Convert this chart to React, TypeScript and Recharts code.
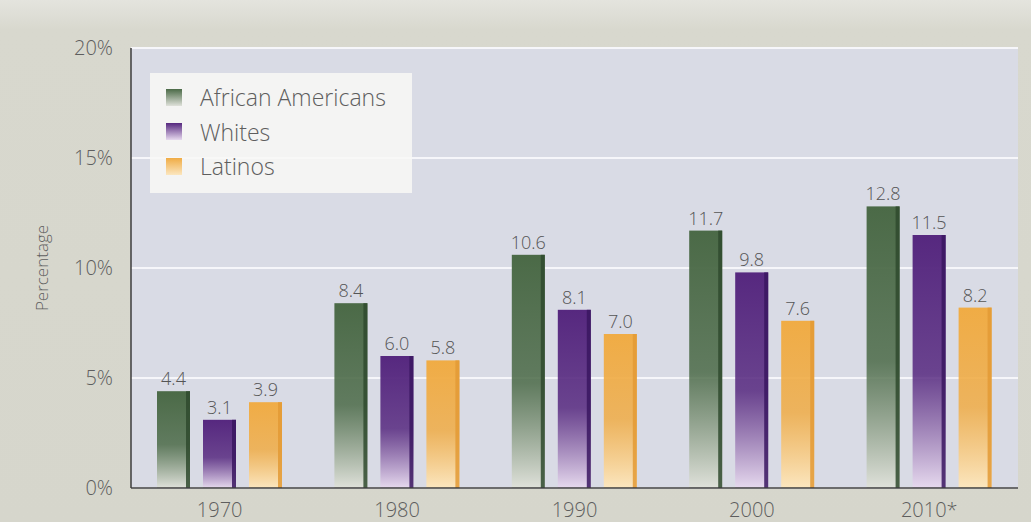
import React from 'react';
import { BarChart, Bar, XAxis, YAxis, CartesianGrid, LabelList } from 'recharts';

const years = ['1970', '1980', '1990', '2000', '2010*'];
const africanAmericans = [4.4, 8.4, 10.6, 11.7, 12.8];
const whites = [3.1, 6.0, 8.1, 9.8, 11.5];
const latinos = [3.9, 5.8, 7.0, 7.6, 8.2];
const yTicks = [0, 5, 10, 15, 20];

const seriesInfo = [
  { key: 'aa', name: 'African Americans', top: '#4b6a47', bottom: '#dfe1da', edge: '#2f4a2e' },
  { key: 'wh', name: 'Whites', top: '#56287f', bottom: '#e6d9ee', edge: '#3a1660' },
  { key: 'la', name: 'Latinos', top: '#f0ac45', bottom: '#fbe6bf', edge: '#e39a35' },
];

const data = years.map((y, i) => ({
  year: y,
  aa: africanAmericans[i],
  wh: whites[i],
  la: latinos[i],
}));

const FONT = '"Open Sans", "Noto Sans", sans-serif';
const TEXT = '#5e5e5e';

const makeShape = (s: typeof seriesInfo[number]) => (props: any) => {
  const { x, y, width, height } = props;
  if (!height || height <= 0) return null;
  const edgeW = 4;
  return (
    <g>
      <rect x={x} y={y} width={width} height={height} fill={`url(#grad-${s.key})`} />
      <rect x={x + width - edgeW} y={y} width={edgeW} height={height} fill={s.edge} opacity={0.85} />
    </g>
  );
};

const LegendBox = () => (
  <div
    style={{
      position: 'absolute',
      left: 150,
      top: 73,
      background: 'rgba(248,248,246,0.85)',
      width: 262,
      height: 120,
      boxSizing: 'border-box',
      padding: '7px 0 0 16px',
      fontFamily: FONT,
    }}
  >
    {seriesInfo.map((s) => (
      <div key={s.key} style={{ display: 'flex', alignItems: 'center', height: 34.5 }}>
        <div
          style={{
            width: 16,
            height: 17,
            background: `linear-gradient(${s.top}, ${s.bottom})`,
            marginRight: 18,
          }}
        />
        <span style={{ fontSize: 23, color: TEXT, fontWeight: 300 }}>{s.name}</span>
      </div>
    ))}
  </div>
);

export default function App() {
  return (
    <div
      style={{
        position: 'absolute',
        left: 0,
        top: 0,
        width: 1031,
        height: 522,
        background: 'linear-gradient(#e4e4de 0px, #d8d8ce 30px, #d6d6cc 100%)',
      }}
    >
      <BarChart
        width={1031}
        height={522}
        data={data}
        margin={{ top: 48, right: 13, bottom: 4, left: 0 }}
        barSize={33}
        barGap={13}
      >
        <defs>
          {seriesInfo.map((s) => (
            <linearGradient key={s.key} id={`grad-${s.key}`} x1="0" y1="0" x2="0" y2="1">
              <stop offset="0%" stopColor={s.top} />
              <stop offset="55%" stopColor={s.top} stopOpacity={0.85} />
              <stop offset="100%" stopColor={s.bottom} />
            </linearGradient>
          ))}
        </defs>
        <CartesianGrid
          vertical={false}
          horizontal={true}
          stroke="#f6f6fa"
          strokeWidth={2}
          fill="#d9dbe5"
          fillOpacity={1}
        />
        <XAxis
          dataKey="year"
          height={30}
          axisLine={{ stroke: '#3c3c3c', strokeWidth: 1.5 }}
          tickLine={false}
          tickMargin={9}
          tick={{ fill: TEXT, fontSize: 20, fontFamily: FONT, fontWeight: 300 }}
        />
        <YAxis
          width={131}
          domain={[0, 20]}
          ticks={yTicks}
          interval={0}
          tickFormatter={(v: number) => `${v}%`}
          axisLine={{ stroke: '#3c3c3c', strokeWidth: 1.5 }}
          tickLine={false}
          tickMargin={12}
          tick={{ fill: TEXT, fontSize: 20, fontFamily: FONT, fontWeight: 300 }}
          label={{
            value: 'Percentage',
            angle: -90,
            position: 'insideLeft',
            offset: 42,
            style: { fill: TEXT, fontSize: 17, fontFamily: FONT, fontWeight: 300, textAnchor: 'middle' },
          }}
        />
        {seriesInfo.map((s) => (
          <Bar
            key={s.key}
            dataKey={s.key}
            name={s.name}
            fill={s.top}
            isAnimationActive={false}
            shape={makeShape(s)}
          >
            <LabelList
              dataKey={s.key}
              position="top"
              offset={6}
              formatter={(v: number) => v.toFixed(1)}
              style={{ fill: '#555', fontSize: 18, fontFamily: FONT, fontWeight: 300 }}
            />
          </Bar>
        ))}
      </BarChart>
      <LegendBox />
    </div>
  );
}
